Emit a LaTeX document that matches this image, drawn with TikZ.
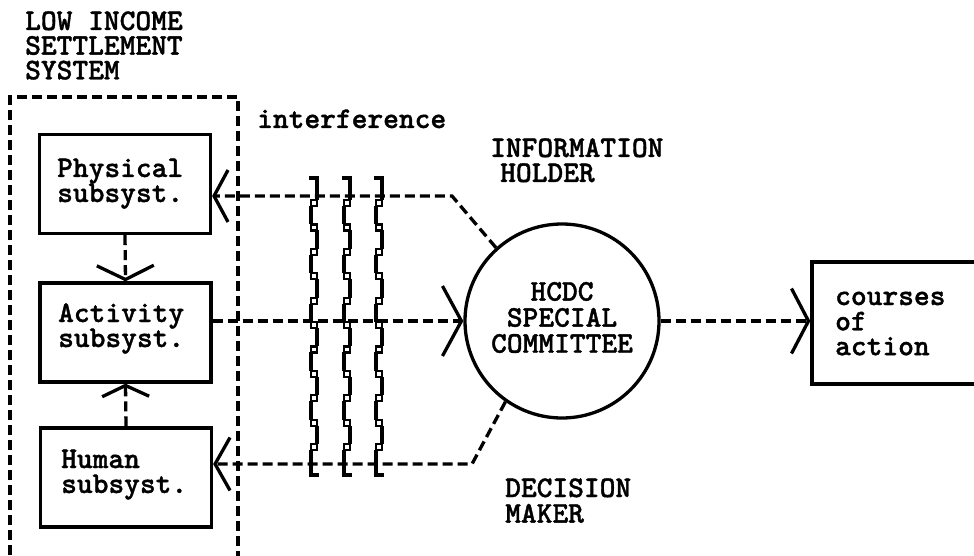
\documentclass[tikz,border=0pt]{standalone}
\usepackage{fontspec}
\newfontfamily\tw{lmmonolt10-bold.otf}[FakeBold=1.2]
\usetikzlibrary{arrows.meta}
% typed text block: [column type]{line spacing}{lines}
\newcommand\txtblock[3][l]{{\fontsize{30}{#2}\selectfont\begin{tabular}[t]{@{}#1@{}}#3\end{tabular}}}
% one column of the interference chain, #1 = centre x
\newcommand\chaincol[1]{%
  \draw[lw] (#1-5,178) -- (#1+3,178) -- (#1+3,200);
  \foreach \k in {0,...,10}{%
    \pgfmathsetmacro\yk{203+24.4*\k}
    \draw[line width=2.2pt] (#1-3,\yk-3) rectangle (#1+3,\yk+3);
  }
  \foreach \k in {0,...,9}{%
    \pgfmathsetmacro\yk{203+24.4*\k}
    \pgfmathsetmacro\yn{203+24.4*(\k+1)}
    \pgfmathsetmacro\sd{ifthenelse(mod(\k,2)==0,-3,3)}
    \draw[lw] (#1+\sd,\yk+3) -- (#1+\sd,\yn-3);
  }
  \draw[lw] (#1-3,450) -- (#1-3,475) -- (#1+5,475);
}
\begin{document}
\begin{tikzpicture}[x=1pt,y=-1pt,
  lw/.style={line width=3.3pt},
  dline/.style={lw, dash pattern=on 10pt off 5pt},
  sbox/.style={draw, lw, minimum width=171pt, minimum height=99pt, inner sep=0pt},
  lab/.style={font=\tw, inner sep=0pt, anchor=base west},
  barb/.style n args={2}{-{Straight Barb[length=#1pt,width=#2pt]}}]
\useasboundingbox (0,0) rectangle (974,556);

% system boundary
\draw[dline] (10,600) -- (10,97) -- (238,97) -- (238,600);
\node[lab] (title) at (25,30) {\txtblock{20}{LOW INCOME\\SETTLEMENT\\SYSTEM}};

% subsystems
\node[sbox] (phys) at (125,184) {};
\node[sbox] (act) at (125.5,332.5) {};
\node[sbox] (hum) at (126,477.5) {};
\node[lab] (physT) at (57,177) {\txtblock{21}{Physical\\subsyst.}};
\node[lab] (actT) at (58,322) {\txtblock{22}{Activity\\subsyst.}};
\node[lab] (humT) at (61,468) {\txtblock{22}{Human\\subsyst.}};

% committee and outcome
\node[circle, draw, lw, minimum size=194pt, inner sep=0pt, font=\tw] (circ) at (562,321)
  {\txtblock[c]{24.5}{HCDC\\SPECIAL\\COMMITTEE}};
\node[draw, lw, minimum width=200pt, minimum height=122pt] (cour) at (912,323) {};
\node[lab] (courT) at (835,305) {\txtblock{22.5}{courses\\of\\action}};

% labels
\node[lab] (interf) at (257,128) {\txtblock{20}{interference}};
\node[lab] (info) at (490,157) {\txtblock{21}{INFORMATION\\\hspace{10pt}HOLDER}};
\node[lab] (dec) at (505,497) {\txtblock{23}{DECISION\\MAKER}};

% interference chains
\chaincol{314}
\chaincol{347}
\chaincol{379}

% bends of the feedback lines
\coordinate (tbend) at (452,196);
\coordinate (bbend) at (472,464);

% connectors
\draw[dline, barb={14}{52}] (circ.132.5) -- (tbend) -- (tbend -| phys.east);
\draw[dline, barb={15}{53}] (circ.235) -- (bbend) -- (bbend -| hum.east);
\draw[dline, barb={19}{70}] (circ.west -| act.east) -- (circ.west);
\draw[dline, barb={17}{65}] (circ.east) -- (circ.east -| cour.west);
\draw[dline, barb={14}{57}] (phys.south) -- (act.north);
\draw[dline, barb={11}{47}] (hum.north) -- (act.south);
\end{tikzpicture}
\end{document}
